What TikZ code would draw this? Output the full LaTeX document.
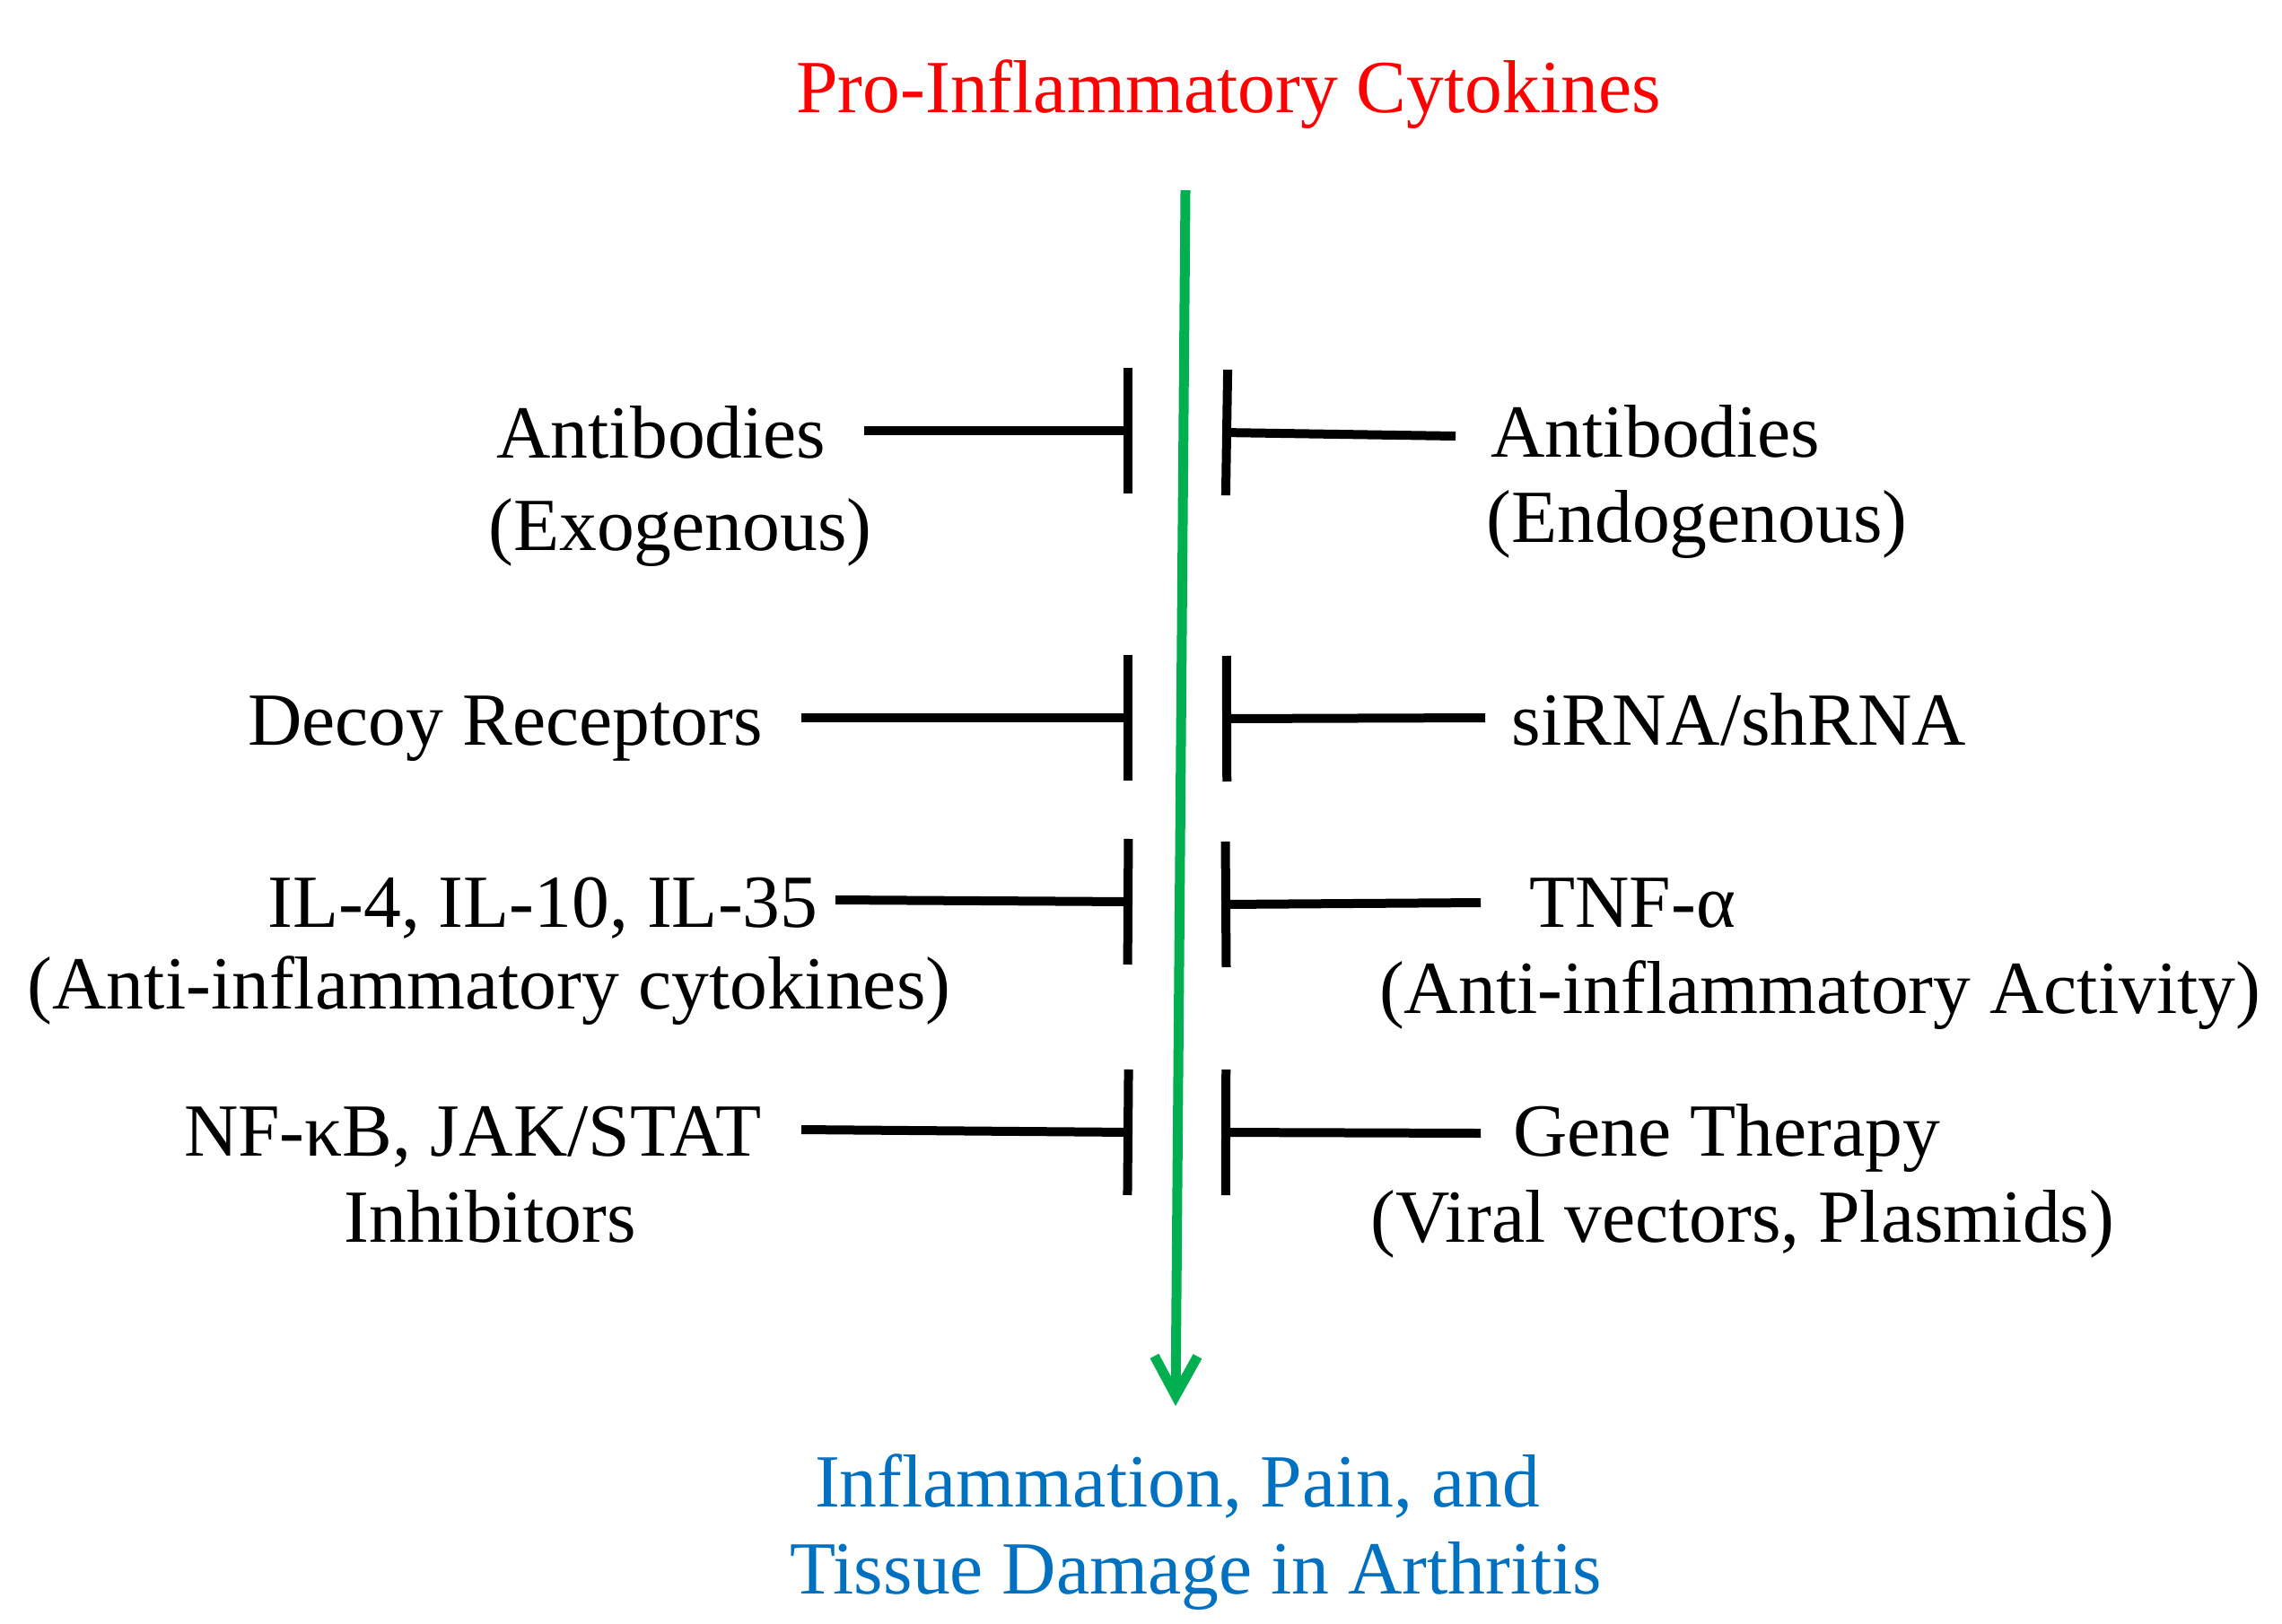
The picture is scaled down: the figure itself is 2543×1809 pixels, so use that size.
\documentclass[tikz,border=0pt]{standalone}
\usepackage{fontspec}
\setmainfont{Liberation Serif}
\usetikzlibrary{arrows.meta}
\definecolor{pgreen}{RGB}{0,176,80}
\definecolor{tred}{RGB}{255,0,0}
\definecolor{tblue}{RGB}{0,112,192}
\begin{document}
\begin{tikzpicture}[x=0.25pt,y=-0.25pt,
  lbl/.style={anchor=base,inner sep=0pt,font=\fontsize{20.9}{25}\selectfont},
  inh/.style={line width=2.5pt,-{Bar[width=35pt]}},
  flow/.style={draw=pgreen,line width=2.75pt,-{Straight Barb[length=11pt,width=12pt]}}]
\useasboundingbox (0,0) rectangle (2543,1809);

% titles
\node[lbl,text=tred] (top) at (1369,125) {Pro-Inflammatory Cytokines};
\node[lbl,text=tblue] (out1) at (1312,1679) {Inflammation, Pain, and};
\node[lbl,text=tblue] (out2) at (1333,1776) {Tissue Damage in Arthritis};

% main flow
\coordinate (fs) at (1321,212);
\coordinate (fe) at (1310,1567);
\draw[flow] (fs) -- (fe);

% left labels
\node[lbl] (a1) at (737,510) {Antibodies};
\node[lbl] (a1b) at (758,613) {(Exogenous)};
\node[lbl] (a2) at (563,830) {Decoy Receptors};
\node[lbl] (a3) at (605,1033) {IL-4, IL-10, IL-35};
\node[lbl] (a3b) at (545,1124) {(Anti-inflammatory cytokines)};
\node[lbl] (a4) at (527,1288) {NF-κB, JAK/STAT};
\node[lbl] (a4b) at (546,1384) {Inhibitors};

% right labels
\node[lbl] (b1) at (1845,509) {Antibodies};
\node[lbl] (b1b) at (1891,604) {(Endogenous)};
\node[lbl] (b2) at (1938,830) {siRNA/shRNA};
\node[lbl] (b3) at (1819,1033) {TNF-α};
\node[lbl] (b3b) at (2028,1129) {(Anti-inflammatory Activity)};
\node[lbl] (b4) at (1924,1288) {Gene Therapy};
\node[lbl] (b4b) at (1942,1384) {(Viral vectors, Plasmids)};

% connector end points
\coordinate (l1s) at (963,480);  \coordinate (l1e) at (1262,480);
\coordinate (l2s) at (893,800);  \coordinate (l2e) at (1262,800);
\coordinate (l3s) at (931,1003); \coordinate (l3e) at (1262,1005);
\coordinate (l4s) at (893,1259); \coordinate (l4e) at (1262,1262);
\coordinate (r1s) at (1622,486); \coordinate (r1e) at (1362,482);
\coordinate (r2s) at (1655,800); \coordinate (r2e) at (1362,801);
\coordinate (r3s) at (1650,1006);\coordinate (r3e) at (1361,1008);
\coordinate (r4s) at (1650,1263);\coordinate (r4e) at (1361,1262);

\foreach \c in {l1,l2,l3,l4,r1,r2,r3,r4}{
  \draw[inh] (\c s) -- (\c e);
}
\end{tikzpicture}
\end{document}
